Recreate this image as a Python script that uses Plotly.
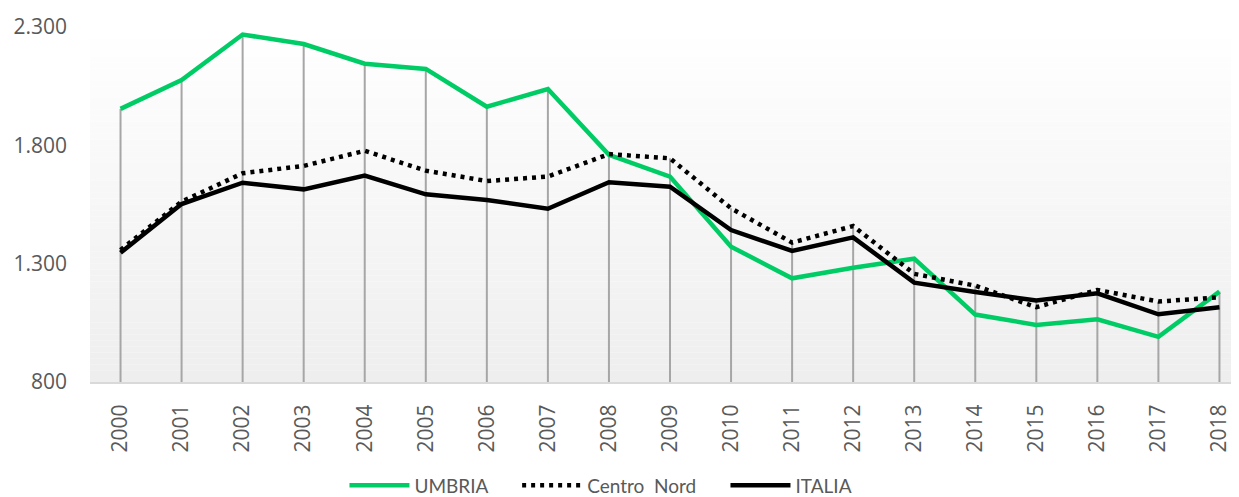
import plotly.graph_objects as go

years = [str(y) for y in range(2000, 2019)]
umbria = [1954, 2076, 2268, 2228, 2145, 2123, 1963, 2038, 1760, 1668,
          1372, 1238, 1283, 1321, 1085, 1041, 1065, 991, 1182]
centro_nord = [1358, 1562, 1682, 1713, 1777, 1693, 1649, 1668, 1763, 1745,
               1534, 1389, 1459, 1257, 1207, 1116, 1189, 1140, 1158]
italia = [1346, 1552, 1642, 1614, 1672, 1593, 1569, 1532, 1644, 1625,
          1442, 1354, 1411, 1220, 1180, 1144, 1175, 1086, 1116]
y_ticks = [800, 1300, 1800, 2300]
y_tick_labels = ["800", "1.300", "1.800", "2.300"]
series_names = ["UMBRIA", "Centro\u00a0 Nord", "ITALIA"]

FONT = "Open Sans"
Y_MIN, Y_MAX = 800, 2300
PAD = "\u00a0" * 5  # extra spacing between legend entries

fig = go.Figure()

# drop lines: from the highest series value down to the axis
dx, dy = [], []
for i, yr in enumerate(years):
    top = max(umbria[i], centro_nord[i], italia[i])
    dx += [yr, yr, None]
    dy += [top, Y_MIN, None]
fig.add_trace(go.Scatter(x=dx, y=dy, mode="lines", showlegend=False,
                         hoverinfo="skip",
                         line=dict(color="#a6a6a6", width=2)))

fig.add_trace(go.Scatter(x=years, y=umbria, name=series_names[0] + PAD, mode="lines",
                         line=dict(color="#00CC66", width=4.5)))
fig.add_trace(go.Scatter(x=years, y=centro_nord, name=series_names[1] + PAD, mode="lines",
                         line=dict(color="#000000", width=4.5, dash="4px,5px")))
fig.add_trace(go.Scatter(x=years, y=italia, name=series_names[2], mode="lines",
                         line=dict(color="#000000", width=4.5)))

# vertical gradient background of the plot area
n = 60
shapes = []
for k in range(n):
    t = (k + 0.5) / n  # 0 at top, 1 at bottom
    v = int(round(255 - (255 - 238) * t))
    shapes.append(dict(type="rect", xref="paper", yref="paper",
                       x0=0, x1=1, y0=1 - (k + 1) / n, y1=1 - k / n,
                       fillcolor=f"rgb({v},{v},{v})", line=dict(width=0),
                       layer="below"))

fig.update_layout(
    width=1231, height=489,
    margin=dict(l=82, r=0, t=19, b=115, autoexpand=False),
    paper_bgcolor="white",
    plot_bgcolor="rgba(0,0,0,0)",
    shapes=shapes,
    font=dict(family=FONT, size=21, color="#595959"),
    showlegend=True,
    legend=dict(orientation="h", x=0.4447, xanchor="center",
                y=-0.291, yanchor="middle",
                font=dict(family="Lato", size=19, color="#595959"),
                itemwidth=60, traceorder="normal", bgcolor="rgba(0,0,0,0)"),
)
fig.update_xaxes(type="category", range=[-0.5, 18.32], tickangle=-90,
                 automargin=False,
                 showgrid=False, zeroline=False, showline=True,
                 linecolor="#d9d9d9", linewidth=2, ticks="",
                 ticklabelstandoff=12,
                 tickfont=dict(family=FONT, size=21, color="#595959"))
fig.update_yaxes(range=[Y_MIN, Y_MAX], tickvals=y_ticks, ticktext=y_tick_labels,
                 automargin=False,
                 showgrid=False, zeroline=False, showline=False, ticks="",
                 ticklabelstandoff=22,
                 tickfont=dict(family=FONT, size=21, color="#595959"))

fig.write_html("out.html")
